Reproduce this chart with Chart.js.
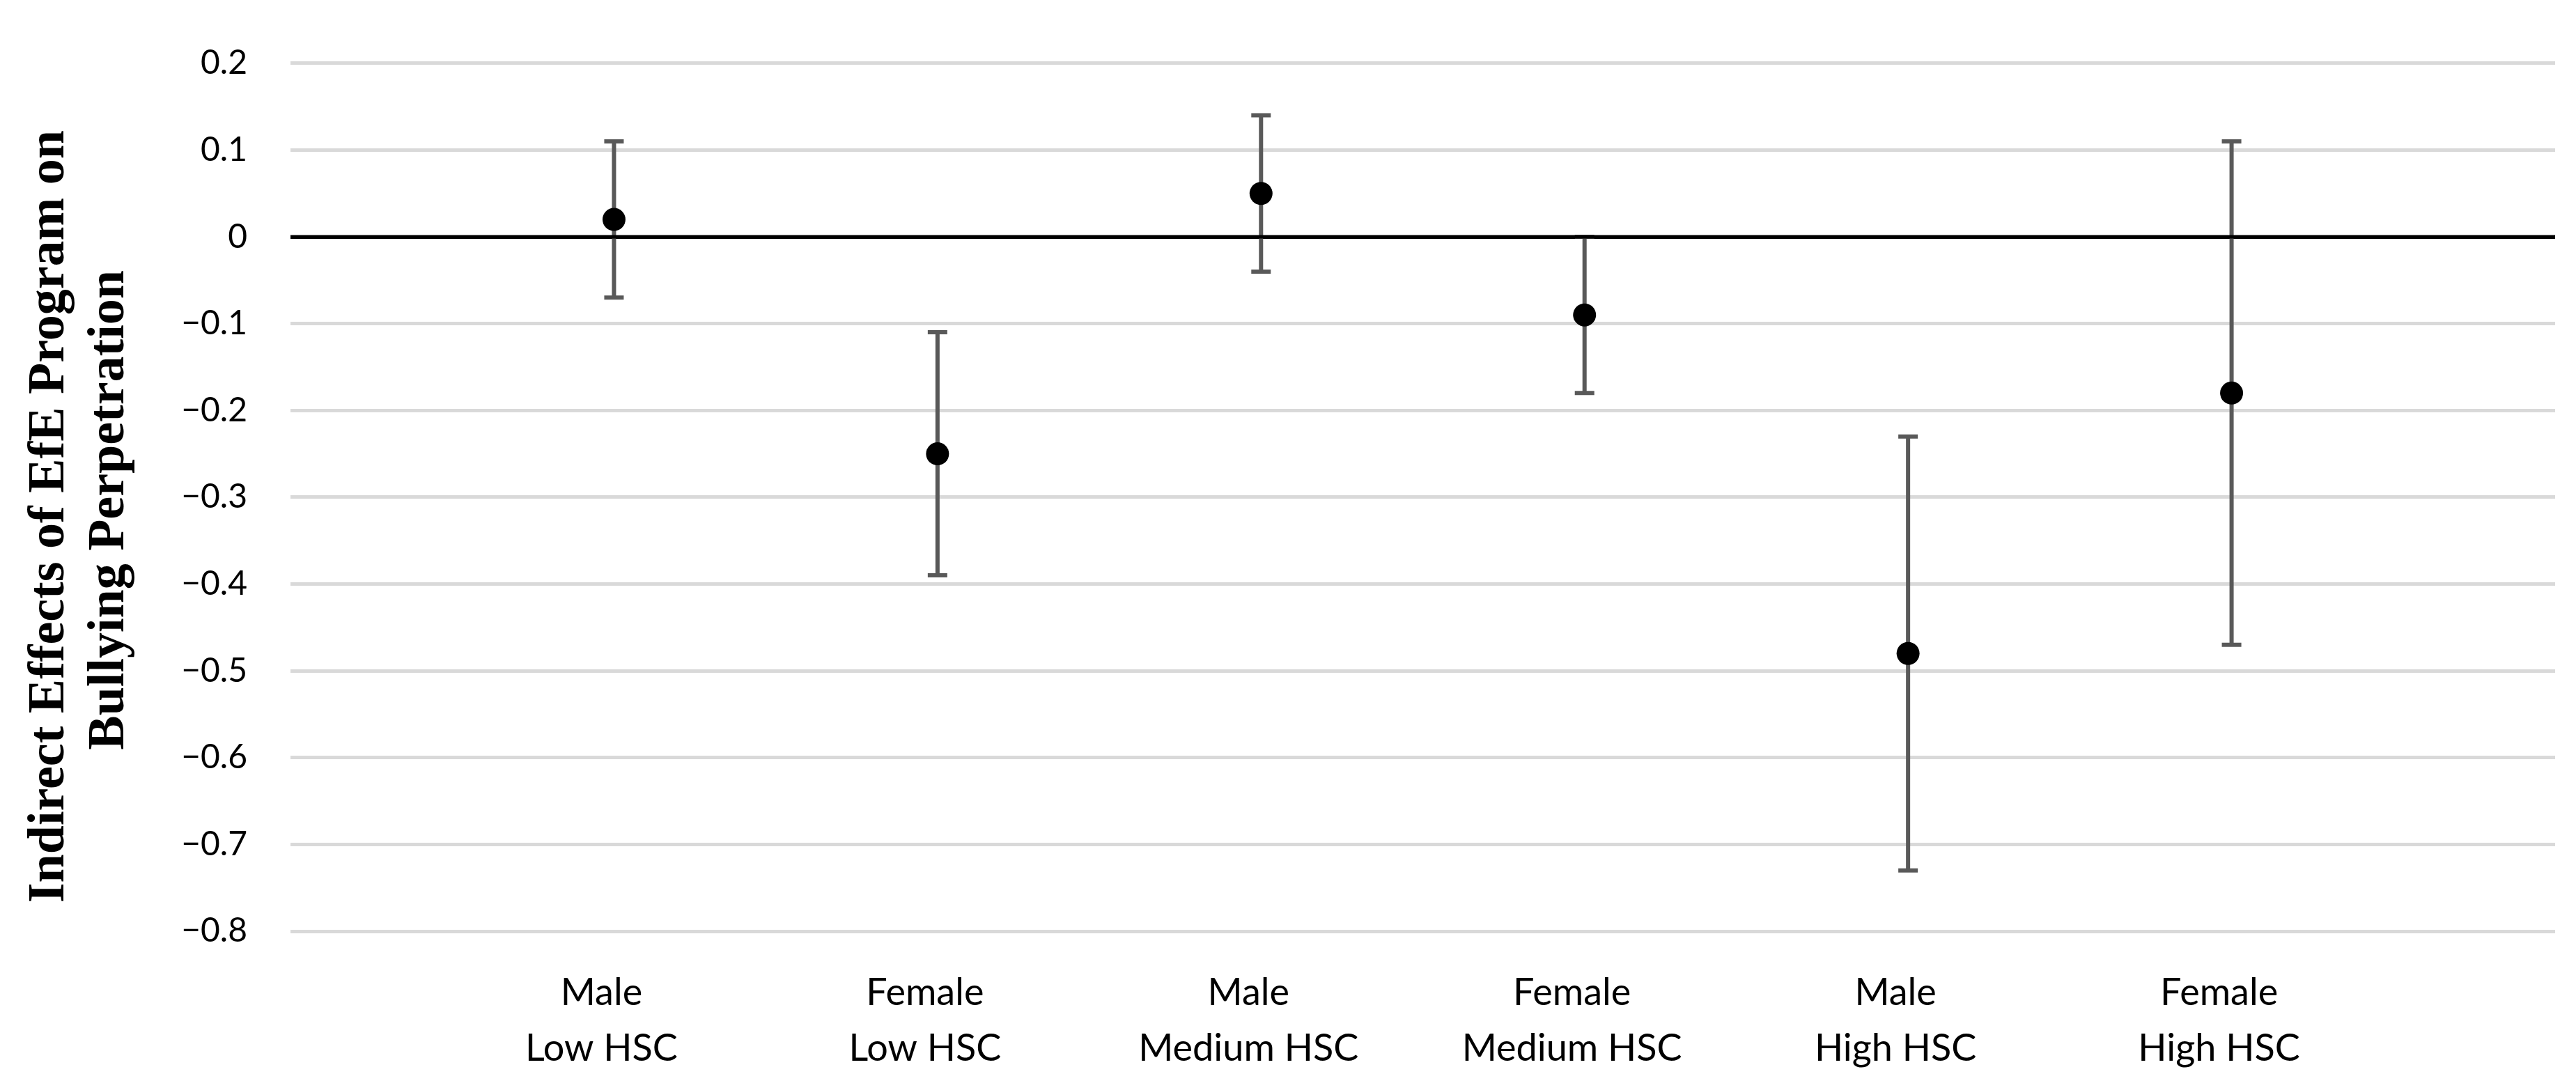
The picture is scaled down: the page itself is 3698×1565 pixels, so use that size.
<!DOCTYPE html>
<html>
<head>
<meta charset="utf-8">
<script src="https://cdn.jsdelivr.net/npm/chart.js@4.4.1/dist/chart.umd.min.js"></script>
<style>
  html, body { margin: 0; padding: 0; background: #ffffff; }
  #wrap { width: 3698px; height: 1565px; }
</style>
</head>
<body>
<div id="wrap"><canvas id="c" width="3698" height="1565"></canvas></div>
<script>
// ---- data ----
const categories = [
  ['Male', 'Low HSC'],
  ['Female', 'Low HSC'],
  ['Male', 'Medium HSC'],
  ['Female', 'Medium HSC'],
  ['Male', 'High HSC'],
  ['Female', 'High HSC']
];
const xPositions = [1, 2, 3, 4, 5, 6];
const effects = [0.02, -0.25, 0.05, -0.09, -0.48, -0.18];
const ciLower = [-0.07, -0.39, -0.04, -0.18, -0.73, -0.47];
const ciUpper = [0.11, -0.11, 0.14, 0.00, -0.23, 0.11];
const yTickValues = [-0.8, -0.7, -0.6, -0.5, -0.4, -0.3, -0.2, -0.1, 0, 0.1, 0.2];
const yTickLabels = ['\u22120.8', '\u22120.7', '\u22120.6', '\u22120.5', '\u22120.4', '\u22120.3', '\u22120.2', '\u22120.1', '0', '0.1', '0.2'];
const yTitle = ['Indirect Effects of EfE Program on   ', 'Bullying Perpetration  '];

const errorBarPlugin = {
  id: 'errorBars',
  beforeDatasetsDraw(chart) {
    const ctx = chart.ctx;
    const xs = chart.scales.x, ys = chart.scales.y;
    const area = chart.chartArea;
    ctx.save();
    ctx.strokeStyle = '#595959';
    ctx.lineWidth = 6;
    ctx.lineCap = 'butt';
    const capHalf = 14;
    for (let i = 0; i < xPositions.length; i++) {
      const px = xs.getPixelForValue(xPositions[i]);
      const pLo = ys.getPixelForValue(ciLower[i]);
      const pHi = ys.getPixelForValue(ciUpper[i]);
      ctx.beginPath();
      ctx.moveTo(px, pLo);
      ctx.lineTo(px, pHi);
      ctx.moveTo(px - capHalf, pLo);
      ctx.lineTo(px + capHalf, pLo);
      ctx.moveTo(px - capHalf, pHi);
      ctx.lineTo(px + capHalf, pHi);
      ctx.stroke();
    }
    // zero line on top of the error bars
    const p0 = ys.getPixelForValue(0);
    ctx.strokeStyle = '#000000';
    ctx.lineWidth = 5;
    ctx.beginPath();
    ctx.moveTo(area.left, p0);
    ctx.lineTo(area.right, p0);
    ctx.stroke();
    ctx.restore();
  }
};

new Chart(document.getElementById('c'), {
  type: 'scatter',
  data: {
    datasets: [{
      data: xPositions.map((x, i) => ({ x: x, y: effects[i] })),
      backgroundColor: '#000000',
      borderColor: '#000000',
      borderWidth: 0,
      pointRadius: 16.5,
      pointHoverRadius: 16.5
    }]
  },
  options: {
    responsive: false,
    devicePixelRatio: 1,
    animation: false,
    layout: { padding: { left: 0, right: 30, top: 85, bottom: 0 } },
    plugins: { legend: { display: false }, tooltip: { enabled: false } },
    scales: {
      x: {
        type: 'linear',
        min: 0,
        max: 7,
        grid: { display: false, drawTicks: false },
        border: { display: false },
        afterBuildTicks(s) { s.ticks = xPositions.map(v => ({ value: v })); },
        afterFit(s) { s.height = 228; },
        ticks: {
          autoSkip: false,
          maxRotation: 0,
          minRotation: 0,
          padding: 49,
          labelOffset: -18,
          color: '#000000',
          font: { family: 'Lato', size: 54, lineHeight: 80 / 54 },
          callback: (v, i) => categories[i]
        }
      },
      y: {
        type: 'linear',
        min: -0.8,
        max: 0.2,
        afterBuildTicks(s) { s.ticks = yTickValues.map(v => ({ value: v })); },
        afterFit(s) { s.width = 417; },
        grid: {
          drawTicks: false,
          color: c => (c.tick && Math.abs(c.tick.value) < 1e-9) ? '#000000' : '#d9d9d9',
          lineWidth: 5
        },
        border: { display: false },
        ticks: {
          padding: 62,
          color: '#000000',
          font: { family: 'Lato', size: 48 },
          callback: (v, i) => yTickLabels[i]
        },
        title: {
          display: true,
          text: yTitle,
          color: '#000000',
          padding: { top: 29, bottom: 0 },
          font: { family: 'Liberation Serif', size: 74, weight: 'bold', lineHeight: 86 / 74 }
        }
      }
    }
  },
  plugins: [errorBarPlugin]
});
</script>
</body>
</html>
